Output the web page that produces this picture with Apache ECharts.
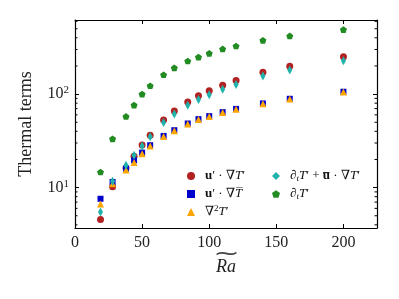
<!DOCTYPE html>
<html><head><meta charset="utf-8">
<script src="https://cdn.jsdelivr.net/npm/echarts@6/dist/echarts.min.js"></script>
<style>html,body{margin:0;padding:0;background:#fff}#c{width:399px;height:299px}</style>
</head><body><div id="c"></div>
<script>
const raValues = [19, 28, 38, 44, 50, 56, 66, 74, 84, 92, 100, 110, 120, 140, 160, 200];
const advFluct = [4.57, 10.2, 16.2, 21.7, 28.5, 36.4, 52.7, 65.8, 82.1, 95.9, 108.4, 124, 140, 171, 199, 251];
const advMean = [7.6, 11.5, 16.0, 19.6, 23.7, 28.4, 35.7, 41.1, 48.5, 54.0, 58.1, 64.1, 69.5, 79.5, 89.1, 106];
const diffusion = [6.7, 11.0, 15.4, 18.6, 23.0, 27.8, 35.2, 40.6, 48.0, 53.5, 57.5, 63.5, 69, 79, 88.5, 105];
const dtAdv = [5.5, 11.7, 17.3, 22.2, 27.9, 34.9, 49.7, 61.1, 76.2, 87.7, 98.3, 113, 127, 156, 181, 227];
const dtOnly = [14.7, 33.2, 57.7, 76.2, 100, 122.7, 161, 191, 226, 249, 273, 304, 327, 376, 419, 489];
const xTicks = [0, 50, 100, 150, 200];
const yMinorTicks = [4, 5, 6, 7, 8, 9, 20, 30, 40, 50, 60, 70, 80, 90, 200, 300, 400, 500, 600];
const X_MIN = 0, X_MAX = 225, Y_MIN = 3.7, Y_MAX = 620;

const SERIF = '"Liberation Serif","DejaVu Serif",serif';
const pentagon = 'path://M0,-10 L9.51,-3.09 L5.88,8.09 L-5.88,8.09 L-9.51,-3.09 Z';

function pairs(ys) { return raValues.map((x, i) => [x, ys[i]]); }

const labels = {
  adv: '{b|u}′ · ∇{i|T}′',
  mean: '{b|u}′ · ∇{i|T\u0305}',
  diff: '∇{sup|2}{i|T}′',
  dtadv: '∂{sub|t}{i|T}′ + {b|u\u0305} · ∇{i|T}′',
  dt: '∂{sub|t}{i|T}′'
};
const legendRich = {
  b: {fontFamily: SERIF, fontWeight: 'bold', fontSize: 13, lineHeight: 16},
  i: {fontFamily: SERIF, fontStyle: 'italic', fontSize: 13, lineHeight: 16},
  sup: {fontFamily: SERIF, fontSize: 9, verticalAlign: 'top', lineHeight: 12, padding:[0,0,6,0]},
  sub: {fontFamily: SERIF, fontStyle: 'italic', fontSize: 9, lineHeight: 10, padding:[6,0,0,0]}
};

const chart = echarts.init(document.getElementById('c'), null, {renderer: 'canvas'});
const axisLine = {show: true, onZero: false, lineStyle: {color: '#000', width: 1.2}};
const majorTick = {show: true, inside: true, length: 4, lineStyle: {color: '#000', width: 1}};
const legendCommon = {
  orient: 'vertical', top: 168, padding: 0, itemWidth: 8, itemHeight: 8, itemGap: 2,
  formatter: n => labels[n],
  textStyle: {fontFamily: SERIF, fontSize: 13, color: '#111', lineHeight: 16, padding: [0, 0, 0, 5], rich: legendRich}
};

chart.setOption({
  animation: false,
  backgroundColor: '#fff',
  grid: {left: 75, right: 22, top: 20, bottom: 71},
  xAxis: [
    {type: 'value', min: X_MIN, max: X_MAX, interval: 50, position: 'bottom',
     axisLine: axisLine, axisTick: majorTick, splitLine: {show: false},
     axisLabel: {color: '#222', fontFamily: SERIF, fontSize: 16, margin: 7, showMaxLabel: false,
       formatter: v => xTicks.includes(v) ? String(v) : ''},
     name: '{t|\u2053}\n{r|Ra}', nameLocation: 'middle', nameGap: 22, nameMoveOverlap: false,
     nameTextStyle: {color: '#222', verticalAlign: 'top', rich: {
       t: {fontFamily: '"DejaVu Sans"', fontSize: 22, lineHeight: 8, color: '#444', padding: [0, 0, 0, 1]},
       r: {fontFamily: SERIF, fontStyle: 'italic', fontSize: 18, lineHeight: 18, color: '#222'}}}},
    {type: 'value', min: X_MIN, max: X_MAX, interval: 50, position: 'top',
     axisLine: axisLine, axisTick: majorTick, splitLine: {show: false}, axisLabel: {show: false}}
  ],
  yAxis: [
    {type: 'log', logBase: 10, min: Y_MIN, max: Y_MAX, position: 'left',
     axisLine: axisLine, axisTick: majorTick, splitLine: {show: false},
     axisLabel: {showMinLabel: false, showMaxLabel: false, margin: 6,
       formatter: v => '{n|10}{s|' + Math.round(Math.log10(v)) + '}',
       rich: {n: {fontFamily: SERIF, fontSize: 16, color: '#222'},
              s: {fontFamily: SERIF, fontSize: 11, color: '#222', verticalAlign: 'top', padding: [0,0,8,0]}}},
     name: 'Thermal terms', nameLocation: 'middle', nameGap: 40, nameRotate: 90, nameMoveOverlap: false,
     nameTextStyle: {fontFamily: SERIF, fontSize: 18, color: '#222'}},
    {type: 'log', logBase: 10, min: Y_MIN, max: Y_MAX, position: 'right',
     axisLine: axisLine, axisTick: majorTick, splitLine: {show: false}, axisLabel: {show: false}}
  ],
  legend: [
    Object.assign({data: ['adv', 'mean', 'diff'], left: 187}, legendCommon),
    Object.assign({data: ['dtadv', 'dt'], left: 272}, legendCommon)
  ],
  series: [
    {name: 'adv', type: 'scatter', data: pairs(advFluct), symbol: 'circle', symbolSize: 7,
     itemStyle: {color: '#b22222', opacity: 1}},
    {name: 'mean', type: 'scatter', data: pairs(advMean), symbol: 'rect', symbolSize: 6,
     itemStyle: {color: '#0000cd', opacity: 1}},
    {name: 'diff', type: 'scatter', data: pairs(diffusion), symbol: 'triangle', symbolSize: 7,
     itemStyle: {color: '#ffa500', opacity: 1}},
    {name: 'dtadv', type: 'scatter', data: pairs(dtAdv), symbol: 'diamond', symbolSize: [5, 9],
     itemStyle: {color: '#20b2aa', opacity: 1}},
    {name: 'dt', type: 'scatter', data: pairs(dtOnly), symbol: pentagon, symbolKeepAspect: true, symbolSize: 7,
     itemStyle: {color: '#228b22', opacity: 1}},
    {name: 'minorTicks', type: 'custom', silent: true, clip: false, z: 5,
     data: yMinorTicks.map(v => [X_MIN, v]),
     renderItem: function (params, api) {
       const v = api.value(1);
       const pL = api.coord([X_MIN, v]);
       const pR = api.coord([X_MAX, v]);
       return {type: 'group', children: [
         {type: 'line', shape: {x1: pL[0], y1: pL[1], x2: pL[0] + 2.5, y2: pL[1]}, style: {stroke: '#000', lineWidth: 1}},
         {type: 'line', shape: {x1: pR[0] - 2.5, y1: pR[1], x2: pR[0], y2: pR[1]}, style: {stroke: '#000', lineWidth: 1}}
       ]};
     }}
  ]
});
</script></body></html>
